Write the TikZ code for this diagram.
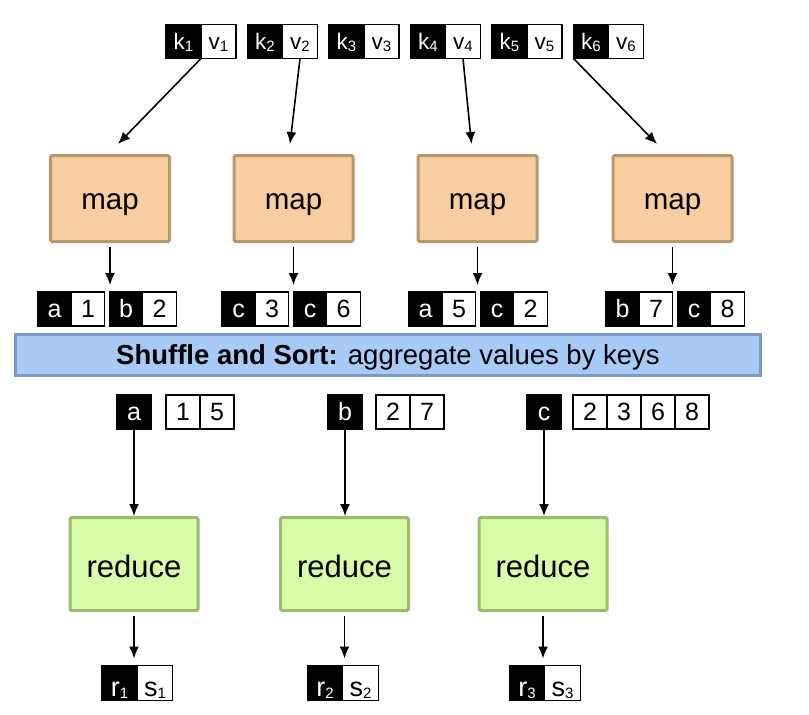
\documentclass[tikz,border=0pt]{standalone}
\usepackage{fontspec}
\setmainfont{Liberation Sans}
\usetikzlibrary{positioning,arrows.meta}

\definecolor{mapfill}{HTML}{F7CE9F}
\definecolor{mapline}{HTML}{B8976F}
\definecolor{redfill}{HTML}{D8FCA8}
\definecolor{redline}{HTML}{9BBB71}
\definecolor{barfill}{HTML}{A7CAF7}
\definecolor{barline}{HTML}{7D9AC3}

\newcommand{\idx}[1]{\raisebox{-2.5pt}{\fontsize{15}{15}\selectfont #1}}

\tikzset{
  cell/.style={draw=black, line width=1.2pt, inner sep=0pt, outer sep=0pt,
    minimum width=33.5pt, minimum height=34pt, text height=17.5pt, text depth=0pt,
    font=\fontsize{25}{25}\selectfont},
  keycell/.style={cell, fill=black, text=white},
  valcell/.style={cell, fill=white, text=black},
  kvkey/.style={keycell, minimum width=35pt, text height=15.5pt, font=\fontsize{22.5}{22.5}\selectfont},
  kvval/.style={valcell, minimum width=35pt, text height=15.5pt, font=\fontsize{22.5}{22.5}\selectfont},
  mapbox/.style={draw=mapline, fill=mapfill, line width=3pt, rounded corners=1.5pt,
    minimum width=119pt, minimum height=86pt, text height=22pt, text depth=0pt,
    font=\fontsize{29.5}{30}\selectfont},
  reducebox/.style={draw=redline, fill=redfill, line width=3pt, rounded corners=1.5pt,
    minimum width=128pt, minimum height=93pt, text height=27pt, text depth=0pt,
    font=\fontsize{31}{31}\selectfont},
  arr/.style={-{Latex[length=12pt,width=10pt]}, line width=1.6pt}
}

\begin{document}
\begin{tikzpicture}[x=1pt, y=-1pt]
  \useasboundingbox (0,0) rectangle (809,715);

  % Input key-value pairs
  \foreach \i/\x in {1/183.5,2/265,3/346.5,4/428,5/509.5,6/591} {
    \node[kvkey] (k\i) at (\x,41.5) {k\idx{\i}};
    \node[kvval, right=0pt of k\i] (v\i) {v\idx{\i}};
  }

  % Mappers
  \node[mapbox] (m1) at (110,198.5) {map};
  \node[mapbox] (m2) at (293.5,198.5) {map};
  \node[mapbox] (m3) at (477.5,198.5) {map};
  \node[mapbox] (m4) at (672.5,198.5) {map};

  \draw[arr] (v1.south west) -- ([xshift=8pt, yshift=10pt]m1.north);
  \draw[arr] (v2.south) -- ([xshift=-3.5pt, yshift=10pt]m2.north);
  \draw[arr] (v4.south) -- ([xshift=-6pt, yshift=10pt]m3.north);
  \draw[arr] (k6.south west) -- ([xshift=-15.5pt, yshift=10pt]m4.north);

  % Intermediate pairs
  \node[keycell] (ok1) at (54.5,309) {a};
  \node[valcell, right=0pt of ok1] (ov1) {1};
  \node[keycell, right=4.5pt of ov1] (ok2) {b};
  \node[valcell, right=0pt of ok2] (ov2) {2};

  \node[keycell] (ok3) at (238.5,309) {c};
  \node[valcell, right=0pt of ok3] (ov3) {3};
  \node[keycell, right=4.5pt of ov3] (ok4) {c};
  \node[valcell, right=0pt of ok4] (ov4) {6};

  \node[keycell] (ok5) at (425.5,309) {a};
  \node[valcell, right=0pt of ok5] (ov5) {5};
  \node[keycell, right=4.5pt of ov5] (ok6) {c};
  \node[valcell, right=0pt of ok6] (ov6) {2};

  \node[keycell] (ok7) at (622.5,309) {b};
  \node[valcell, right=0pt of ok7] (ov7) {7};
  \node[keycell, right=4.5pt of ov7] (ok8) {c};
  \node[valcell, right=0pt of ok8] (ov8) {8};

  \draw[arr, shorten <=4pt, shorten >=7pt] (m1.south) -- (m1.south |- ok1.north);
  \draw[arr, shorten <=4pt, shorten >=7pt] (m2.south) -- (m2.south |- ok3.north);
  \draw[arr, shorten <=4pt, shorten >=7pt] (m3.south) -- (m3.south |- ok5.north);
  \draw[arr, shorten <=4pt, shorten >=7pt] (m4.south) -- (m4.south |- ok7.north);

  % Shuffle bar
  \node[draw=barline, fill=barfill, line width=3pt, minimum width=745pt, minimum height=41pt,
    text height=19pt, text depth=0pt, font=\fontsize{27.5}{27.5}\selectfont]
    (bar) at (388,355) {\textbf{Shuffle and Sort:} aggregate values by keys};

  % Grouped values
  \node[keycell, minimum width=34pt] (ra) at (134,412) {a};
  \node[valcell, minimum width=34pt, right=15pt of ra] (ra1) {1};
  \node[valcell, minimum width=34pt, right=0pt of ra1] (ra2) {5};

  \node[keycell, minimum width=34pt] (rb) at (345,412) {b};
  \node[valcell, minimum width=34pt, right=14pt of rb] (rb1) {2};
  \node[valcell, minimum width=34pt, right=0pt of rb1] (rb2) {7};

  \node[keycell, minimum width=34pt] (rc) at (544,412) {c};
  \node[valcell, minimum width=34pt, right=12pt of rc] (rc1) {2};
  \node[valcell, minimum width=34pt, right=0pt of rc1] (rc2) {3};
  \node[valcell, minimum width=34pt, right=0pt of rc2] (rc3) {6};
  \node[valcell, minimum width=34pt, right=0pt of rc3] (rc4) {8};

  % Reducers
  \node[reducebox] (r1) at (134,564) {reduce};
  \node[reducebox] (r2) at (344.5,564) {reduce};
  \node[reducebox] (r3) at (543,564) {reduce};

  \draw[arr] (ra.south) -- (ra.south |- r1.north);
  \draw[arr] (rb.south) -- (rb.south |- r2.north);
  \draw[arr] (rc.south) -- (rc.south |- r3.north);

  % Outputs
  \node[keycell, minimum width=35.5pt, minimum height=35pt, text height=26pt, font=\fontsize{27}{27}\selectfont] (outk1) at (119.5,683) {r\idx{1}};
  \node[valcell, minimum width=35.5pt, minimum height=35pt, text height=26pt, font=\fontsize{27}{27}\selectfont, right=0pt of outk1] (outv1) {s\idx{1}};
  \node[keycell, minimum width=35.5pt, minimum height=35pt, text height=26pt, font=\fontsize{27}{27}\selectfont] (outk2) at (325,683) {r\idx{2}};
  \node[valcell, minimum width=35.5pt, minimum height=35pt, text height=26pt, font=\fontsize{27}{27}\selectfont, right=0pt of outk2] (outv2) {s\idx{2}};
  \node[keycell, minimum width=35.5pt, minimum height=35pt, text height=26pt, font=\fontsize{27}{27}\selectfont] (outk3) at (527,683) {r\idx{3}};
  \node[valcell, minimum width=35.5pt, minimum height=35pt, text height=26pt, font=\fontsize{27}{27}\selectfont, right=0pt of outk3] (outv3) {s\idx{3}};

  \draw[arr, shorten <=4pt, shorten >=7pt] (r1.south) -- (r1.south |- outk1.north);
  \draw[arr, shorten <=4pt, shorten >=7pt] (r2.south) -- (r2.south |- outk2.north);
  \draw[arr, shorten <=4pt, shorten >=7pt] (r3.south) -- (r3.south |- outk3.north);
\end{tikzpicture}
\end{document}
